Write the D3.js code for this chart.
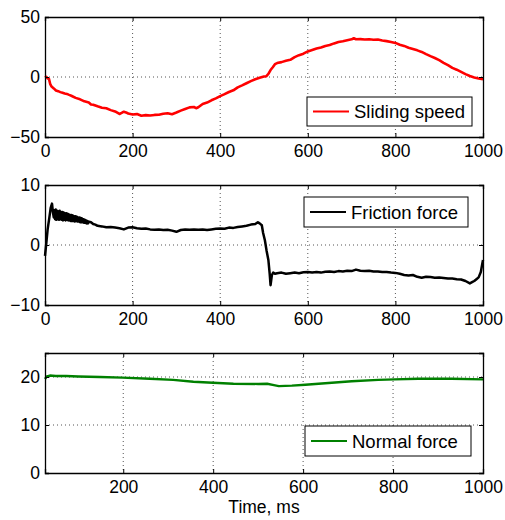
<!DOCTYPE html>
<html><head><meta charset="utf-8">
<script src="https://cdn.jsdelivr.net/npm/d3@7"></script>
<style>body{margin:0;background:#fff}text{font-family:"Liberation Sans",Arial,Helvetica,sans-serif;}</style>
</head><body><svg id="c" width="505" height="520"></svg>
<script>
const speedTime=[0,3,6,9,12,15,20,25,30,35,40,45,50,55,60,70,80,90,100,105,110,120,130,140,150,160,170,175,180,185,190,200,210,220,230,240,250,260,270,280,290,300,310,320,330,340,345,350,360,370,380,390,400,410,420,430,440,450,460,470,480,490,500,505,510,515,520,525,530,540,550,560,570,580,590,600,610,620,630,640,650,660,670,680,690,700,705,710,720,730,740,750,760,770,780,790,800,810,820,830,840,850,860,870,880,890,900,910,920,930,940,950,960,970,980,990,1000];
const speedValues=[-0.5,0.2,-1.3,-1.5,-6.0,-8.0,-9.5,-11.2,-11.8,-12.6,-13.2,-13.8,-14.1,-14.9,-15.6,-17.4,-18.6,-20.3,-21.2,-22.9,-23.1,-24.4,-25.6,-26.1,-27.6,-28.7,-30.8,-29.9,-28.9,-29.5,-30.4,-31.2,-30.9,-32.3,-31.8,-32.1,-31.6,-31.4,-30.6,-30.2,-31.0,-29.6,-28.0,-26.6,-25.3,-25.0,-26.0,-25.2,-22.5,-21.3,-19.4,-17.8,-15.9,-14.3,-12.5,-11.1,-8.6,-7.0,-5.2,-3.4,-1.9,-0.7,0.4,0.6,2.6,5.8,8.1,10.7,11.6,12.4,13.5,14.3,16.6,18.2,19.4,21.3,22.5,23.7,24.6,25.9,26.6,28.0,29.2,29.8,30.6,31.4,32.3,31.5,31.6,31.3,31.4,31.0,31.2,30.4,29.9,29.2,28.4,26.9,25.9,24.4,23.3,22.2,20.9,19.1,17.4,15.8,14.0,11.8,9.9,7.6,6.1,4.2,2.4,0.8,-0.4,-1.2,-1.8];

const frictionTime=[0,3,6,10,13,16,18,20,21.5,23,24.5,26,27.5,29,30.5,32,33.5,35,36.5,38,39.5,41,42.5,44,45.5,47,48.5,50,51.5,53,54.5,56,57.5,59,60.5,62,63.5,65,66.5,68,69.5,71,72.5,74,75.5,77,78.5,80,81.5,83,84.5,86,87.5,89,90.5,92,93.5,95,96.5,98,100,105,110,115,120,130,140,150,160,170,180,190,200,210,220,230,240,250,260,270,280,290,300,310,320,330,340,350,360,370,380,390,400,410,420,430,440,450,460,470,480,486,490,495,498,502,506,510,513,515,518,521,525,530,540,550,560,570,580,590,600,610,620,630,640,650,660,670,680,690,700,710,720,730,740,750,760,770,780,790,800,810,820,830,840,850,860,870,880,890,900,910,920,930,940,950,960,970,975,980,985,990,995,998,1000];
const frictionValues=[-1.8,0.3,2.6,4.6,6.2,6.9,5.5,4.6,5.8,4.3,5.9,4.2,5.7,4.3,5.6,4.2,5.7,4.3,5.5,4.2,5.5,4.1,5.4,4.2,5.3,4.1,5.3,4.2,5.2,4.1,5.1,4.1,5.0,4.0,5.0,4.0,4.9,4.0,4.8,3.9,4.8,4.0,4.7,3.9,4.6,3.9,4.6,3.8,4.5,3.8,4.4,3.8,4.3,3.7,4.2,3.7,4.1,3.6,4.0,3.6,3.9,3.8,3.5,3.4,3.2,3.1,2.95,3.0,2.9,2.8,2.6,2.9,2.95,2.8,2.7,2.75,2.6,2.55,2.6,2.5,2.55,2.4,2.2,2.5,2.6,2.55,2.6,2.55,2.6,2.5,2.6,2.7,2.75,2.7,2.9,2.85,3.0,3.1,3.2,3.4,3.5,3.8,3.6,3.3,2.0,0.8,-1.0,-2.5,-4.8,-6.7,-5.0,-4.6,-4.8,-4.7,-4.6,-4.8,-4.7,-4.6,-4.7,-4.55,-4.5,-4.6,-4.5,-4.6,-4.45,-4.4,-4.5,-4.35,-4.4,-4.3,-4.35,-4.1,-4.3,-4.35,-4.3,-4.4,-4.4,-4.5,-4.5,-4.6,-4.65,-4.8,-5.0,-5.1,-5.0,-5.3,-5.45,-5.3,-5.35,-5.45,-5.4,-5.5,-5.6,-5.6,-5.7,-5.75,-6.0,-6.4,-6.2,-6.0,-5.7,-5.4,-4.5,-3.3,-2.5];

const normalTime=[26,30,37,50,73,100,148,198,259,311,356,399,445,500,520,535,546,575,605,649,708,767,804,856,930,1000];
const normalValues=[19.6,20.1,20.3,20.2,20.2,20.1,20.0,19.86,19.65,19.4,19.0,18.8,18.6,18.55,18.6,18.3,18.1,18.2,18.4,18.7,19.1,19.4,19.5,19.65,19.65,19.5];

const xTicksTop=[0,200,400,600,800,1000];
const xTicksBottom=[200,400,600,800,1000];
const speedTicks=[-50,0,50];
const frictionTicks=[-10,0,10];
const normalTicks=[0,10,20];
const legendLabels=["Sliding speed","Friction force","Normal force"];
const xLabel="Time, ms";

const svg=d3.select("#c");
svg.append("rect").attr("width",505).attr("height",520).attr("fill","#fff");
const L=45,R=483;
const panels=[
 {top:17,bot:137,xd:[0,1000],yd:[-50,50],xt:xTicksTop,yt:speedTicks,grid:[0],t:speedTime,v:speedValues,col:"#ff0000",sw:2.6,lab:legendLabels[0],lg:[307,97,472,126]},
 {top:185,bot:305,xd:[0,1000],yd:[-10,10],xt:xTicksTop,yt:frictionTicks,grid:[0],t:frictionTime,v:frictionValues,col:"#000000",sw:2.5,lab:legendLabels[1],lg:[304,197,468,227]},
 {top:353,bot:473,xd:[26,1000],yd:[0,25],xt:xTicksBottom,yt:normalTicks,grid:[10,20],t:normalTime,v:normalValues,col:"#008000",sw:2.4,lab:legendLabels[2],lg:[305,426,471,456]}
];
const fs=17.5;
panels.forEach(p=>{
 const x=d3.scaleLinear().domain(p.xd).range([L,R]);
 const y=d3.scaleLinear().domain(p.yd).range([p.bot,p.top]);
 const g=svg.append("g");
 p.xt.filter(v=>v>p.xd[0]&&v<p.xd[1]).forEach(v=>{
  g.append("line").attr("x1",x(v)).attr("x2",x(v)).attr("y1",p.top).attr("y2",p.bot)
   .attr("stroke","#555").attr("stroke-width",1).attr("stroke-dasharray","1,3");
 });
 p.grid.forEach(v=>{
  g.append("line").attr("x1",L).attr("x2",R).attr("y1",y(v)).attr("y2",y(v))
   .attr("stroke","#555").attr("stroke-width",1).attr("stroke-dasharray","1,3");
 });
 const line=d3.line().x((d,i)=>x(p.t[i])).y(d=>y(d));
 g.append("path").datum(p.v).attr("d",line).attr("fill","none").attr("stroke",p.col)
  .attr("stroke-width",p.sw).attr("stroke-linejoin","round");
 const xa=g.append("g").attr("transform",`translate(0,${p.bot})`)
  .call(d3.axisBottom(x).tickValues(p.xt).tickSize(-4).tickPadding(8).tickFormat(d3.format("d")));
 const xa2=g.append("g").attr("transform",`translate(0,${p.top})`)
  .call(d3.axisTop(x).tickValues(p.xt).tickSize(-4).tickFormat(""));
 const ya=g.append("g").attr("transform",`translate(${L},0)`)
  .call(d3.axisLeft(y).tickValues(p.yt).tickSize(-4).tickPadding(5).tickFormat(d=>d<0?"\u2212"+Math.abs(d):d));
 const ya2=g.append("g").attr("transform",`translate(${R},0)`)
  .call(d3.axisRight(y).tickValues(p.yt).tickSize(-4).tickFormat(""));
 [xa,xa2,ya,ya2].forEach(a=>{
  a.selectAll("path").attr("stroke","#000").attr("stroke-width",1.3);
  a.selectAll("line").attr("stroke","#000");
  a.selectAll("text").attr("font-size",fs).attr("fill","#000").attr("font-family","Liberation Sans, Arial, sans-serif");
 });
 const [lx0,ly0,lx1,ly1]=p.lg;
 g.append("rect").attr("x",lx0).attr("y",ly0).attr("width",lx1-lx0).attr("height",ly1-ly0)
  .attr("fill","#fff").attr("stroke","#000").attr("stroke-width",1);
 const cy=(ly0+ly1)/2;
 g.append("line").attr("x1",lx0+6).attr("x2",lx0+42).attr("y1",cy).attr("y2",cy)
  .attr("stroke",p.col).attr("stroke-width",2.2);
 g.append("text").attr("x",lx0+47).attr("y",cy).attr("dy","0.36em").attr("font-size",18.5)
  .attr("fill","#000").text(p.lab);
});
svg.append("text").attr("x",(L+R)/2).attr("y",513).attr("text-anchor","middle")
 .attr("font-size",fs).attr("fill","#000").text(xLabel);
</script></body></html>
